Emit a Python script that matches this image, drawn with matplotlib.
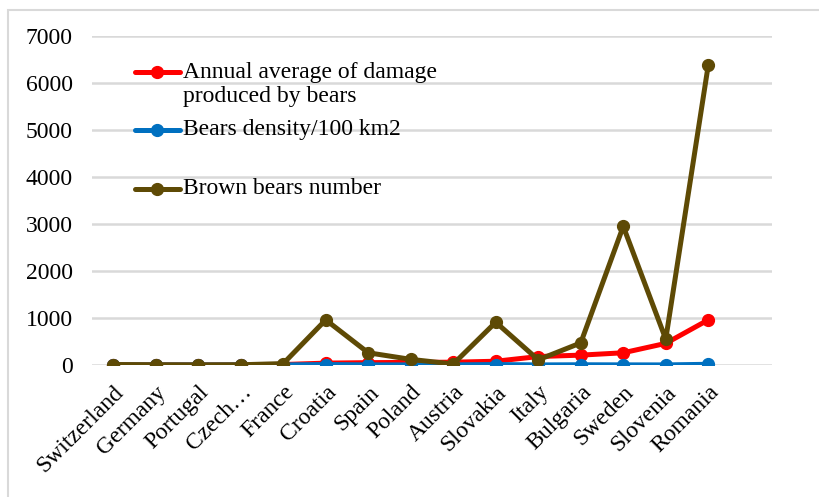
import matplotlib.pyplot as plt
from matplotlib.patches import Rectangle

countries = ["Switzerland", "Germany", "Portugal", "Czech…", "France", "Croatia",
             "Spain", "Poland", "Austria", "Slovakia", "Italy", "Bulgaria",
             "Sweden", "Slovenia", "Romania"]
damage = [0, 0, 0, 0, 10, 40, 50, 55, 60, 80, 180, 210, 260, 460, 960]
density = [0.5, 0.5, 0.5, 1, 2, 10, 3, 2, 3, 10, 2, 5, 3, 2, 15]
bears = [10, 5, 2, 5, 30, 960, 260, 120, 20, 910, 110, 470, 2950, 550, 6380]

series = [
    ("Annual average of damage\nproduced by bears", damage, "#FF0000"),
    ("Bears density/100 km2", density, "#0070C0"),
    ("Brown bears number", bears, "#5E4A05"),
]

plt.rcParams['font.family'] = ['Liberation Serif', 'DejaVu Serif']

fig = plt.figure(figsize=(8.2, 4.97), dpi=100)
W, H = 820, 497
ax = fig.add_axes([92 / W, 1 - 365 / H, (772 - 92) / W, (365 - 36) / H])

# outer chart frame (cropped on right and bottom)
fig.patches.append(Rectangle((8 / W, -0.1), 1.2, 1 - 10 / H + 0.1, transform=fig.transFigure,
                             fill=False, edgecolor="#D9D9D9", linewidth=1.5))

x = list(range(len(countries)))
for label, vals, col in series:
    ax.plot(x, vals, color=col, linewidth=3.6, marker="o", markersize=8.5,
            solid_capstyle="round", zorder=3)

ax.set_xlim(-0.5, 15.5)
ax.set_ylim(0, 7000)
ax.set_yticks(range(0, 7001, 1000))
ax.grid(axis="y", color="#D9D9D9", linewidth=1.8)
ax.set_axisbelow(True)
for s in ax.spines.values():
    s.set_visible(False)
ax.tick_params(length=0)
ax.tick_params(axis="y", labelsize=17, pad=14)
ax.set_xticks(x)
ax.set_xticklabels(countries, rotation=45, ha="right", rotation_mode="anchor",
                   fontsize=17)
ax.tick_params(axis="x", pad=12)

# legend drawn in axes fraction
leg_y = [72, 130, 189]
x0, x1 = (135 - 92) / 680, (180 - 92) / 680
for (label, vals, col), py in zip(series, leg_y):
    fy = (365 - py) / 329
    ax.plot([x0, x1], [fy, fy], color=col, linewidth=3.6, transform=ax.transAxes,
            clip_on=False, solid_capstyle="round")
    ax.plot([(x0 + x1) / 2], [fy], marker="o", color=col, markersize=8.5,
            transform=ax.transAxes, clip_on=False)
    if "\n" in label:
        ax.text((183 - 92) / 680, (365 - py - 12.5) / 329, label,
                transform=ax.transAxes, fontsize=17, va="center", ha="left",
                linespacing=1.2)
    else:
        ax.text((183 - 92) / 680, fy, label, transform=ax.transAxes,
                fontsize=17, va="center", ha="left")

fig.savefig("out.png", dpi=100)
